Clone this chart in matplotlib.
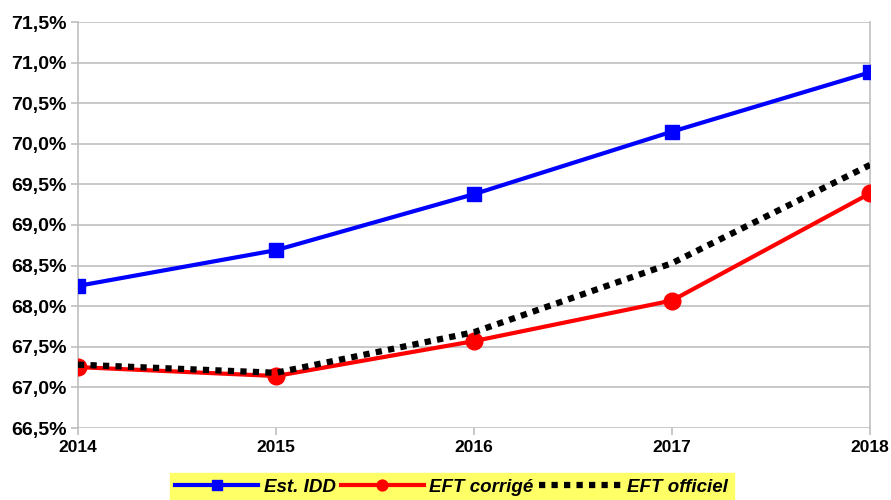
import matplotlib
matplotlib.use("Agg")
import matplotlib.pyplot as plt
from matplotlib.ticker import FuncFormatter

plt.rcParams['font.family'] = ['Liberation Sans', 'DejaVu Sans']

# data
years = [2014, 2015, 2016, 2017, 2018]
est_idd = [68.25, 68.69, 69.38, 70.15, 70.88]
eft_corrige = [67.25, 67.14, 67.57, 68.07, 69.39]
eft_officiel = [67.28, 67.18, 67.68, 68.53, 69.74]
y_ticks = [66.5, 67.0, 67.5, 68.0, 68.5, 69.0, 69.5, 70.0, 70.5, 71.0, 71.5]

fig = plt.figure(figsize=(8.91, 5), dpi=100)
ax = fig.add_axes([0.0875, 0.144, 0.889, 0.812])

ax.plot(years, est_idd, color='#0000ff', linewidth=3, marker='s', markersize=10,
        label='Est. IDD', zorder=3)
ax.plot(years, eft_corrige, color='#ff0000', linewidth=3, marker='o', markersize=12,
        label='EFT corrigé', zorder=4)
ax.plot(years, eft_officiel, color='black', linewidth=4.5, linestyle=(0, (1, 1)),
        dash_capstyle='butt', label='EFT officiel', zorder=5)

ax.set_xlim(2014, 2018)
ax.set_ylim(66.5, 71.5)
ax.set_xticks(years)
ax.set_yticks(y_ticks)
ax.yaxis.set_major_formatter(FuncFormatter(lambda v, p: ('%.1f%%' % v).replace('.', ',')))
ax.grid(axis='y', color='#bfbfbf', linewidth=1.2)
ax.set_axisbelow(True)

ax.spines['top'].set_visible(False)
ax.spines['bottom'].set_visible(False)
for s in ['left', 'right']:
    ax.spines[s].set_color('#bfbfbf')
    ax.spines[s].set_linewidth(1.2)

ax.tick_params(axis='both', colors='#bfbfbf', length=5, width=1.2, labelcolor='black')
ax.tick_params(axis='y', labelsize=14, pad=3)
ax.tick_params(axis='x', labelsize=12.5, pad=4)
for lab in ax.get_xticklabels() + ax.get_yticklabels():
    lab.set_fontweight('bold')

# yellow legend strip at the bottom
leg = fig.legend(loc='lower center', bbox_to_anchor=(0.507, -0.022), ncol=3,
                 frameon=True, fancybox=False, facecolor='#ffff66', edgecolor='#ffff66',
                 framealpha=1, handlelength=4.4, handletextpad=0.3, columnspacing=0.3,
                 borderpad=0.3, markerscale=0.65,
                 prop={'weight': 'bold', 'style': 'italic', 'size': 13.5})

fig.savefig('out.png', dpi=100)
